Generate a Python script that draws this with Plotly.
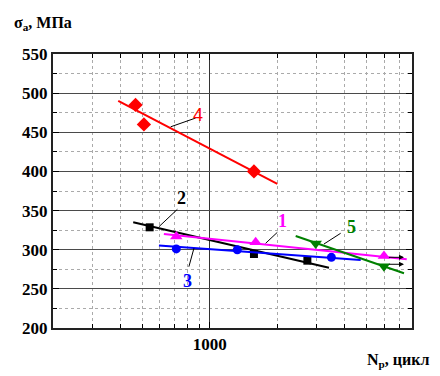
import numpy as np
import plotly.graph_objects as go

# ---- data ----
# series 1 (magenta, up triangles)
s1_n = [710, 1605, 5998]
s1_s = [317, 309.5, 292]
s1_fit_n = [625, 7577]
s1_fit_s = [320, 287.7]
# series 2 (black, squares)
s2_n = [540, 1577, 2730]
s2_s = [328.6, 294.5, 286]
s2_fit_n = [456, 3409]
s2_fit_s = [335, 277]
# series 3 (blue, circles)
s3_n = [710, 1329, 3494]
s3_s = [301, 300, 290.3]
s3_fit_n = [594, 4721]
s3_fit_s = [305.5, 286.9]
# series 4 (red, diamonds)
s4_n = [467, 509, 1577]
s4_s = [485, 460, 400]
s4_fit_n = [391, 2005]
s4_fit_s = [490, 384]
# series 5 (green, down triangles)
s5_n = [2973, 5994]
s5_s = [308, 279]
s5_fit_n = [2421, 7369]
s5_fit_s = [317.5, 270]

# run-out arrows
runout_n0 = [6210, 6210]
runout_n1 = [7370, 7370]
runout_s = [290.3, 281.4]

# curve labels and leader lines
label_text = ['1', '2', '3', '4', '5']
label_color = ['#ff00ff', '#000000', '#0000ff', '#ff0000', '#008000']
label_serif = [True, True, True, False, True]
label_n = [2123, 750, 796, 890, 4295]
label_s = [336.3, 366, 260.3, 472, 329.4]
leader_n0 = [1778, 594, 851, 670, 3238]
leader_s0 = [308.2, 329.4, 301.8, 457, 307.3]
leader_n1 = [2005, 718, 808, 866, 3844]
leader_s1 = [322.2, 351.6, 278.3, 468.2, 321]

x_ticks = [1000]
x_ticktext = ['1000']
x_minor = [200, 300, 400, 500, 600, 700, 800, 900, 2000, 3000, 4000, 5000, 6000, 7000, 8000]
y_ticks = [200, 250, 300, 350, 400, 450, 500, 550]

SERIF = '"Times New Roman", "Liberation Serif", serif'
SANS = '"Liberation Sans", Arial, sans-serif'

fig = go.Figure()

series = [
    (s4_n, s4_s, s4_fit_n, s4_fit_s, '#ff0000', 'diamond', 11),
    (s2_n, s2_s, s2_fit_n, s2_fit_s, '#000000', 'square', 8),
    (s3_n, s3_s, s3_fit_n, s3_fit_s, '#0000ff', 'circle', 9),
    (s1_n, s1_s, s1_fit_n, s1_fit_s, '#ff00ff', 'triangle-up', 11),
    (s5_n, s5_s, s5_fit_n, s5_fit_s, '#008000', 'triangle-down', 11),
]
for n, s, fn, fs, c, sym, sz in series:
    fig.add_trace(go.Scatter(x=fn, y=fs, mode='lines', line=dict(color=c, width=2), hoverinfo='skip'))
    fig.add_trace(go.Scatter(x=n, y=s, mode='markers', marker=dict(color=c, symbol=sym, size=sz, line=dict(width=0))))

for i in range(len(label_text)):
    fig.add_trace(go.Scatter(x=[leader_n0[i], leader_n1[i]], y=[leader_s0[i], leader_s1[i]],
                             mode='lines', line=dict(color='black', width=1), hoverinfo='skip'))
    if label_serif[i]:
        f = dict(family=SERIF, size=18, color=label_color[i], weight='bold')
    else:
        f = dict(family=SANS, size=18, color=label_color[i], weight='normal')
    fig.add_annotation(x=np.log10(label_n[i]), y=label_s[i], text=label_text[i],
                       showarrow=False, font=f)

for i in range(len(runout_s)):
    fig.add_annotation(x=np.log10(runout_n1[i]), y=runout_s[i], ax=np.log10(runout_n0[i]), ay=runout_s[i],
                       xref='x', yref='y', axref='x', ayref='y', text='', showarrow=True,
                       arrowhead=2, arrowsize=1, arrowwidth=1, arrowcolor='black', standoff=0, startstandoff=0)

fig.add_annotation(xref='paper', yref='paper', x=-0.115, y=1.112, xanchor='left', yanchor='middle',
                   text='σ<sub>a</sub>, МПа', showarrow=False,
                   font=dict(family=SERIF, size=16, color='black', weight='bold'))
fig.add_annotation(xref='paper', yref='paper', x=0.869, y=-0.12, xanchor='left', yanchor='middle',
                   text='N<sub>p</sub>, цикл', showarrow=False,
                   font=dict(family=SERIF, size=16, color='black', weight='bold'))

axis_font = dict(family=SERIF, size=17, color='black', weight='bold')
fig.update_xaxes(type='log', range=[np.log10(200), np.log10(8000)],
                 tickmode='array', tickvals=x_ticks, ticktext=x_ticktext,
                 tickfont=axis_font, ticks='inside', ticklen=6, tickcolor='black', tickwidth=1,
                 showgrid=True, gridcolor='#333', gridwidth=1,
                 showline=True, linecolor='#222', linewidth=2, mirror='ticks', zeroline=False,
                 minor=dict(tickmode='array', tickvals=x_minor, ticks='inside', ticklen=4, tickcolor='black',
                            showgrid=True, gridcolor='#aaa', griddash='dot', gridwidth=1))
fig.update_yaxes(range=[200, 550], tickmode='array', tickvals=y_ticks,
                 ticktext=[str(v) for v in y_ticks],
                 tickfont=axis_font, ticks='inside', ticklen=6, tickcolor='black', tickwidth=1,
                 showgrid=True, gridcolor='#4a4a4a', gridwidth=1.3,
                 showline=True, linecolor='#222', linewidth=2, mirror='ticks', zeroline=False,
                 minor=dict(dtick=25, ticks='inside', ticklen=4, tickcolor='black',
                            showgrid=True, gridcolor='#aaa', griddash='dot', gridwidth=1))

# the page body adds an 8px offset, so the figure is sized to fit the remaining window
fig.update_layout(width=432, height=368, margin=dict(l=45, r=28, t=46, b=48),
                  paper_bgcolor='white', plot_bgcolor='white', showlegend=False)

fig.write_html('out.html')
